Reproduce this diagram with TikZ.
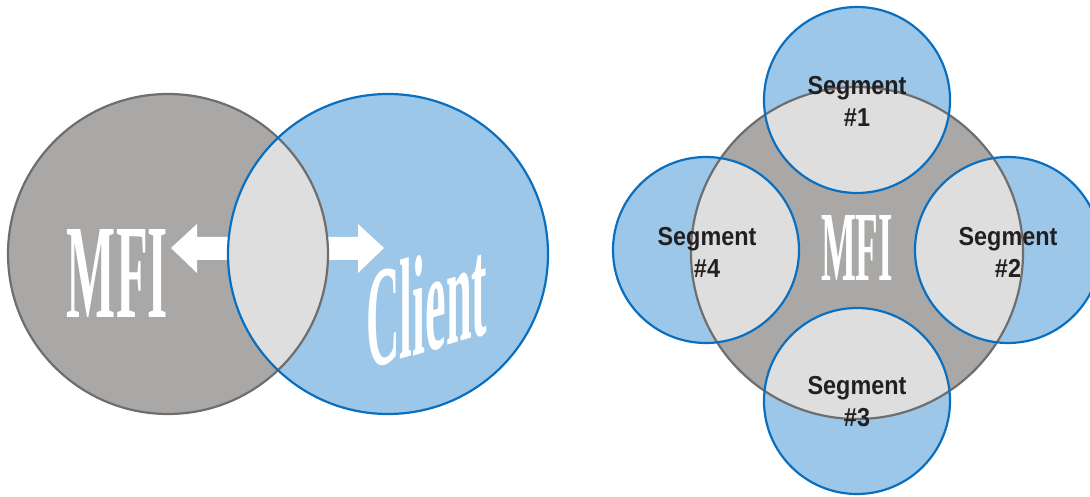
\documentclass[tikz,border=0pt]{standalone}
\usepackage{fontspec}
\usepackage{graphicx}
\setmainfont{Liberation Serif}
\newfontfamily\labelsans{Liberation Sans}

\definecolor{mfigray}{HTML}{A9A8A7}
\definecolor{mfiedge}{HTML}{6F6E6E}
\definecolor{overlap}{HTML}{DEDEDE}
\definecolor{clientblue}{HTML}{9CC7E8}
\definecolor{clientedge}{HTML}{0B6FC0}
\definecolor{labeltext}{HTML}{231F20}

\tikzset{
  mfifill/.style={fill=mfigray},
  mfiline/.style={draw=mfiedge, line width=2.2pt},
  bluefill/.style={fill=clientblue},
  blueline/.style={draw=clientedge, line width=2.2pt},
  bigword/.style={inner sep=0pt, text=white, font=\bfseries},
  seglabel/.style={inner sep=0pt, align=center, text=labeltext, xscale=0.9,
    font=\labelsans\bfseries\fontsize{26}{32}\selectfont},
  whitearrow/.style={fill=white}
}

\begin{document}
\begin{tikzpicture}[x=1pt, y=1pt]
\useasboundingbox (0,0) rectangle (1090,497);
\clip (0,0) rectangle (1090,497);

% ---------- left: MFI and client ----------
\coordinate (mfi) at (168,243);
\coordinate (cli) at (388,243);
\fill[mfifill] (mfi) circle (160);
\fill[bluefill] (cli) circle (160);
% arrows pointing out of the shared area
\fill[whitearrow] (171,249) -- (197,273) -- (197,260) -- (232,260) -- (232,237)
  -- (197,237) -- (197,224) -- cycle;
\fill[whitearrow] (324,260) -- (358,260) -- (358,273) -- (384,249) -- (358,224)
  -- (358,237) -- (324,237) -- cycle;
% shared area
\begin{scope}
  \clip (mfi) circle (160);
  \fill[overlap] (cli) circle (160);
\end{scope}
\draw[mfiline] (mfi) circle (160);
\draw[blueline] (cli) circle (160);

\node[bigword] (mfiword) at (117.5,223) {\resizebox{101pt}{88pt}{MFI}};
\node[bigword, anchor=base west, yslant=0.3] (clientword) at (366,127)
  {\resizebox{121pt}{99pt}{Client}};

% ---------- right: MFI with four segments ----------
\coordinate (core) at (857,244);
\coordinate (s1) at (857,397);
\coordinate (s2) at (1008,247);
\coordinate (s3) at (857,96);
\coordinate (s4) at (706,247);

\fill[mfifill] (core) circle (166);
\foreach \s in {s1,s2,s3,s4} \fill[bluefill] (\s) circle (93);
\begin{scope}
  \clip (core) circle (166);
  \foreach \s in {s1,s2,s3,s4} \fill[overlap] (\s) circle (93);
\end{scope}
\draw[mfiline] (core) circle (166);
\foreach \s in {s1,s2,s3,s4} \draw[blueline] (\s) circle (93);

\node[bigword] (coreword) at (857,249) {\resizebox{72pt}{65pt}{MFI}};

\node[seglabel] (lab1) at (857,396) {Segment\\\#1};
\node[seglabel] (lab2) at (1008,245) {Segment\\\#2};
\node[seglabel] (lab3) at (857,95) {Segment\\\#3};
\node[seglabel] (lab4) at (707,245) {Segment\\\#4};
\end{tikzpicture}
\end{document}
